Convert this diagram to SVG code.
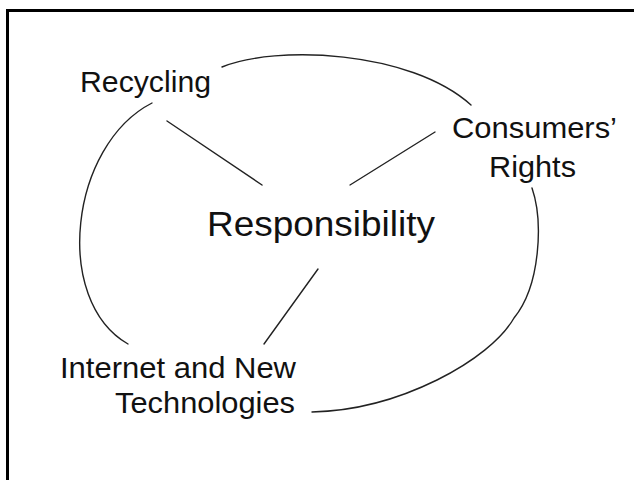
<svg xmlns="http://www.w3.org/2000/svg" width="634" height="480" viewBox="0 0 634 480">
<style>
.lbl{font-family:"Liberation Sans",Arial,sans-serif;font-size:29.5px;fill:#111}
.big{font-size:34.5px}
.con{fill:none;stroke:#222;stroke-width:1.4;stroke-linecap:round}
</style>
<rect x="0" y="0" width="634" height="480" fill="#fff"/>
<rect x="7.5" y="10.5" width="700" height="520" fill="none" stroke="#000" stroke-width="3"/>
<g id="connectors">
<path class="con" d="M222,67 C275,45 410,50 471,105"/>
<path class="con" d="M532,188 C543,220 541,285 514,318 C490,360 400,410 312,412"/>
<path class="con" d="M152,103 C70,145 52,300 128,344"/>
<line class="con" x1="167" y1="121" x2="262" y2="185"/>
<line class="con" x1="435" y1="132" x2="350" y2="185"/>
<line class="con" x1="318" y1="269" x2="264" y2="344"/>
</g>
<g id="responsibility"><text class="lbl big" x="207" y="236" textLength="228" lengthAdjust="spacingAndGlyphs">Responsibility</text></g>
<g id="recycling"><text class="lbl" x="80" y="92" textLength="131" lengthAdjust="spacingAndGlyphs">Recycling</text></g>
<g id="consumers"><text class="lbl" x="452" y="138" textLength="165" lengthAdjust="spacingAndGlyphs">Consumers’</text><text class="lbl" x="489" y="177" textLength="87" lengthAdjust="spacingAndGlyphs">Rights</text></g>
<g id="internet"><text class="lbl" x="60" y="378" textLength="236" lengthAdjust="spacingAndGlyphs">Internet and New</text><text class="lbl" x="115" y="413" textLength="180" lengthAdjust="spacingAndGlyphs">Technologies</text></g>
</svg>
